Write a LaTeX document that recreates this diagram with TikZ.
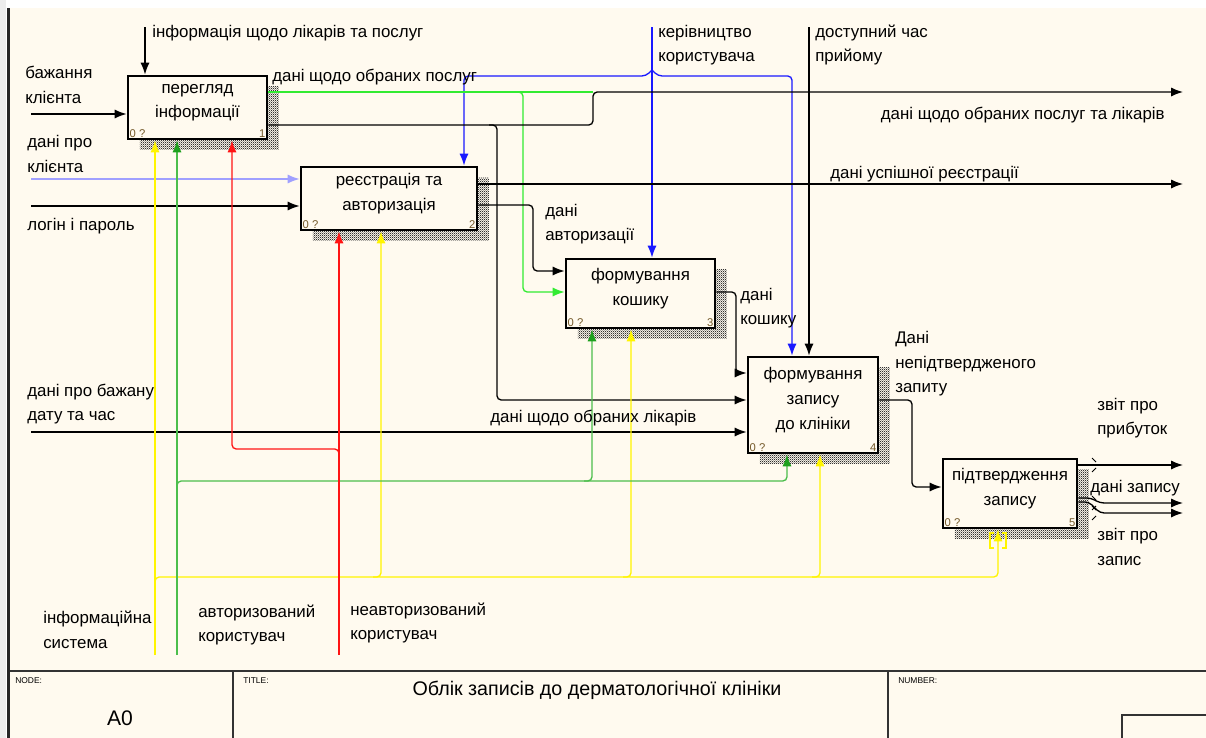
\documentclass[tikz,border=0pt]{standalone}
\usepackage{fontspec}
\setmainfont{Liberation Sans}
\usepackage{tikz}
\usetikzlibrary{positioning,shadows,patterns,arrows.meta}
\definecolor{paper}{RGB}{255,250,239}
\definecolor{lgreen}{RGB}{50,235,50}
\definecolor{mgreen}{RGB}{76,190,76}
\definecolor{dgreen}{RGB}{30,160,30}
\definecolor{mred}{RGB}{255,20,20}
\definecolor{myellow}{RGB}{255,245,0}
\definecolor{mblue}{RGB}{25,25,255}
\definecolor{lblue}{RGB}{160,160,255}
\definecolor{numcol}{RGB}{115,88,40}
\pgfdeclarepatternformonly{fine checker}{\pgfpointorigin}{\pgfqpoint{1.6pt}{1.6pt}}%
  {\pgfqpoint{1.6pt}{1.6pt}}{%
  \pgfpathrectangle{\pgfpointorigin}{\pgfqpoint{0.8pt}{0.8pt}}%
  \pgfpathrectangle{\pgfqpoint{0.8pt}{0.8pt}}{\pgfqpoint{0.8pt}{0.8pt}}%
  \pgfusepath{fill}}
\newcommand{\lblfont}{\fontsize{12}{17.5}\selectfont}
\tikzset{
  func/.style    = {draw, line width=2pt, fill=paper, inner sep=0pt,
                    drop shadow={shadow xshift=8.5pt, shadow yshift=-7.8pt,
                    opacity=1, pattern=fine checker, pattern color=black!80}},
  boxtext/.style = {align=center, font=\lblfont, yshift=3.5pt, inner sep=0pt},
  num/.style     = {font=\fontsize{8}{9}\selectfont, text=numcol, inner sep=2pt},
  lbl/.style     = {align=left, font=\lblfont, inner sep=0pt, anchor=west},
  arr/.style     = {->, line width=0.95pt, rounded corners=3pt},
  mech/.style    = {arr, mgreen, -{Latex[length=8.5pt,width=6.5pt,color=dgreen]}},
  tbl/.style     = {line width=1.2pt, black!80}
}
\begin{document}
\begin{tikzpicture}[x=0.025cm, y=-0.025cm,
        >={Latex[length=8.5pt,width=6.5pt]}]
  \useasboundingbox (0,0) rectangle (1206,738);
  % sheet
  \fill[black!7] (0,0) rectangle (6,738);
  \fill[paper] (10,8) rectangle (1206,738);
  \draw[line width=2.2pt, black!85] (8.5,8) -- (8.5,738);

  % activity boxes
  \node[func, minimum width=3.475cm, minimum height=1.575cm,
        label={[boxtext]center:{перегляд\\інформації}},
        label={[num, anchor=south west]south west:0 ?},
        label={[num, anchor=south east]south east:1}] (b1) at (197.5,107.5) {};
  \node[func, minimum width=4.4cm, minimum height=1.575cm,
        label={[boxtext]center:{реєстрація та\\авторизація}},
        label={[num, anchor=south west]south west:0 ?},
        label={[num, anchor=south east]south east:2}] (b2) at (389,198.5) {};
  \node[func, minimum width=3.725cm, minimum height=1.725cm,
        label={[boxtext]center:{формування\\кошику}},
        label={[num, anchor=south west]south west:0 ?},
        label={[num, anchor=south east]south east:3}] (b3) at (640.5,293.5) {};
  \node[func, minimum width=3.25cm, minimum height=2.4cm,
        label={[boxtext]center:{формування\\запису\\до клініки}},
        label={[num, anchor=south west]south west:0 ?},
        label={[num, anchor=south east]south east:4}] (b4) at (813,405) {};
  \node[func, minimum width=3.35cm, minimum height=1.725cm,
        label={[boxtext]center:{підтвердження\\запису}},
        label={[num, anchor=south west]south west:0 ?},
        label={[num, anchor=south east]south east:5}] (b5) at (1010,493.5) {};

  % free ends
  \coordinate (in1) at (31,114);
  \coordinate (in2) at (31,179);
  \coordinate (in3) at (31,206);
  \coordinate (in4) at (31,432);
  \coordinate (c1) at (145,27);
  \coordinate (c2) at (652,27);
  \coordinate (c3) at (809,27);
  \coordinate (m1) at (155,655);
  \coordinate (m2) at (177,655);
  \coordinate (m3) at (339,655);
  \coordinate (j1) at (593,92);
  \coordinate (out1) at (1183,92);
  \coordinate (out2) at (1183,184);

  % inputs
  \draw[arr] (in1) -- (in1 -| b1.west);
  \draw[arr, lblue] (in2) -- (in2 -| b2.west);
  \draw[arr] (in3) -- (in3 -| b2.west);
  \draw[arr] (in4) -- (in4 -| b4.west);

  % controls
  \draw[arr] (c1) -- (c1 |- b1.north);
  \draw[arr, mblue] (c2) -- (c2 |- b3.north);
  \draw[arr, mblue] (652,70) -- (646,76) -- (464,76) -- (464,76 |- b2.north);
  \draw[arr, mblue] (652,70) -- (658,76) -- (792,76) -- (792,76 |- b4.north);
  \draw[arr] (c3) -- (c3 |- b4.north);

  % outputs between the boxes
  \draw[arr, -, lgreen] ([shift={(0,-15.5)}]b1.east) -- (j1);
  \draw[arr, lgreen] (515,92) -- (523,92) -- (523,292) -- ([shift={(0,-1.5)}]b3.west);
  \draw[arr] ([shift={(0,17.5)}]b1.east) -- (593,125) -- (j1) -- (out1);
  \draw[arr] (489,125) -- (497,125) -- (497,400) -- ([shift={(0,-5)}]b4.west);
  \draw[arr] ([shift={(0,-14.5)}]b2.east) -- (out2);
  \draw[arr] ([shift={(0,6.5)}]b2.east) -- (533,205) -- (533,271) -- ([shift={(0,-22.5)}]b3.west);
  \draw[arr] ([shift={(0,-1.5)}]b3.east) -- (736,292) -- (736,373) -- ([shift={(0,-32)}]b4.west);
  \draw[arr] ([shift={(0,-5)}]b4.east) -- (912,400) -- (912,487) -- ([shift={(0,-6.5)}]b5.west);

  % outputs of the last box, with tunnels
  \draw[arr] ([shift={(0,-28.5)}]b5.east) -- (1183,465);
  \draw[arr] ([shift={(0,4.5)}]b5.east) -- (1091,498) -- (1100,503) -- (1183,503);
  \draw[arr] ([shift={(0,8.5)}]b5.east) -- (1089,502) -- (1100,513) -- (1183,513);
  \foreach \y in {465,503,513}
    \draw[line width=0.6pt] (1092,\y-7) -- (1096,\y-3) (1092,\y+7) -- (1096,\y+3);

  % mechanisms
  \draw[arr, myellow] (m1) -- (m1 |- b1.south);
  \draw[arr, myellow] (155,585) -- (155,577) -- (998,577) -- (998,577 |- b5.south);
  \foreach \x/\b in {381/b2, 631/b3, 820/b4}
    \draw[arr, myellow] ({\x-8},577) -- (\x,577) -- (\x,577 |- \b.south);
  \draw[myellow, line width=0.9pt] (994,533) -- (990,533) -- (990,548) -- (994,548)
        (1002,533) -- (1006,533) -- (1006,548) -- (1002,548);
  \draw[mech] (m2) -- (m2 |- b1.south);
  \draw[mech] (177,487) -- (177,481) -- (787,481) -- (787,481 |- b4.south);
  \draw[mech] (584,481) -- (592,481) -- (592,481 |- b3.south);
  \draw[arr, mred] (m3) -- (m3 |- b2.south);
  \draw[arr, mred] (339,455) -- (339,449) -- (232,449) -- (232,449 |- b1.south);

  % arrow labels
  \node[lbl] (l_wish) at (25,85) {бажання\\клієнта};
  \node[lbl] (l_client) at (27,154) {дані про\\клієнта};
  \node[lbl] (l_login) at (27,226) {логін і пароль};
  \node[lbl] (l_date) at (27,404) {дані про бажану\\дату та час};
  \node[lbl] (l_info) at (152,33) {інформація щодо лікарів та послуг};
  \node[lbl] (l_guide) at (658,45) {керівництво\\користувача};
  \node[lbl] (l_time) at (815,45) {доступний час\\прийому};
  \node[lbl] (l_sel) at (272,77) {дані щодо обраних послуг};
  \node[lbl, anchor=east] (l_selall) at (1165,115) {дані щодо обраних послуг та лікарів};
  \node[lbl] (l_reg) at (830,174) {дані успішної реєстрації};
  \node[lbl] (l_auth) at (545,224) {дані\\авторизації};
  \node[lbl] (l_doc) at (490,418) {дані щодо обраних лікарів};
  \node[lbl] (l_cart) at (740,308) {дані\\кошику};
  \node[lbl] (l_unconf) at (895,364) {Дані\\непідтвердженого\\запиту};
  \node[lbl] (l_profit) at (1097,418) {звіт про\\прибуток};
  \node[lbl] (l_rec) at (1090,488) {дані запису};
  \node[lbl] (l_rep) at (1097,547) {звіт про\\запис};
  \node[lbl] (l_sys) at (43,630) {інформаційна\\система};
  \node[lbl] (l_auser) at (198,625) {авторизований\\користувач};
  \node[lbl] (l_nuser) at (350,623) {неавторизований\\користувач};

  % title block
  \draw[tbl] (10,671) -- (1206,671);
  \draw[tbl] (233,671) -- (233,738);
  \draw[tbl] (888,671) -- (888,738);
  \draw[tbl] (1122,738) -- (1122,715) -- (1206,715);
  \node[font=\fontsize{6}{7}\selectfont, anchor=north west, inner sep=0pt] (t_node) at (15,677) {NODE:};
  \node[font=\fontsize{6}{7}\selectfont, anchor=north west, inner sep=0pt] (t_title) at (243,677) {TITLE:};
  \node[font=\fontsize{6}{7}\selectfont, anchor=north west, inner sep=0pt] (t_num) at (898,677) {NUMBER:};
  \node[font=\fontsize{15}{18}\selectfont, inner sep=0pt] (t_a0) at (120,718) {A0};
  \node[font=\fontsize{14}{17}\selectfont, inner sep=0pt] (t_name) at (597,690)
        {Облік записів до дерматологічної клініки};
\end{tikzpicture}
\end{document}
